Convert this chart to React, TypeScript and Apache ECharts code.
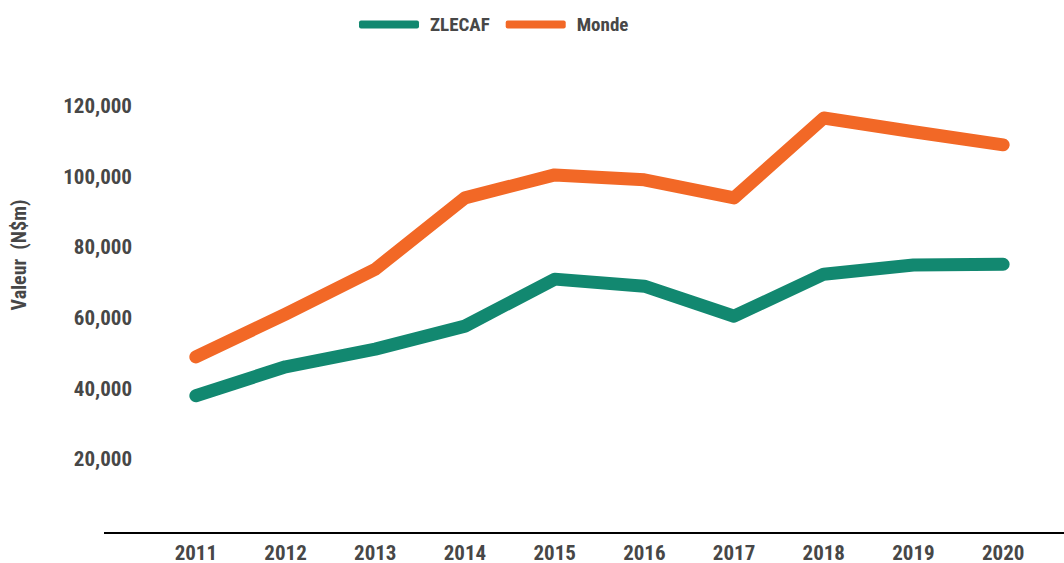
import React, { useEffect, useRef } from "react";
import * as echarts from "echarts";

const years = ["2011", "2012", "2013", "2014", "2015", "2016", "2017", "2018", "2019", "2020"];
const zlecaf = [38000, 46200, 51200, 57700, 71000, 69000, 60500, 72400, 75000, 75200];
const monde = [49000, 61100, 73800, 94000, 100500, 99100, 94000, 116600, 112700, 109000];
const yTicks = [20000, 40000, 60000, 80000, 100000, 120000];

const FONT = '"Roboto Condensed", "Noto Sans Condensed", "Liberation Sans Narrow", "DejaVu Sans Condensed", sans-serif';
const TEXT = "#474747";
const GREEN = "#128870";
const ORANGE = "#F26826";

export default function App() {
  const ref = useRef<HTMLDivElement>(null);
  useEffect(() => {
    if (!ref.current) return;
    const chart = echarts.init(ref.current, undefined, { renderer: "svg" });
    chart.setOption({
      animation: false,
      textStyle: { fontFamily: FONT },
      legend: {
        left: 354,
        top: 10,
        itemWidth: 60,
        itemHeight: 8,
        itemGap: 16,
        icon: "roundRect",
        textStyle: { fontFamily: FONT, fontWeight: "bold", fontSize: 19, color: TEXT, padding: [0, 0, 0, 6] },
        data: [
          { name: "ZLECAF", itemStyle: { color: GREEN, borderRadius: 4 } },
          { name: "Monde", itemStyle: { color: ORANGE, borderRadius: 4 } },
        ],
      },
      grid: { left: 151, right: 16, top: 106, bottom: 31, containLabel: false },
      xAxis: {
        type: "category",
        data: years,
        boundaryGap: true,
        axisLine: { show: false },
        axisTick: { show: false },
        axisLabel: { fontFamily: FONT, fontWeight: "bold", fontSize: 21, color: TEXT, margin: 12 },
      },
      yAxis: {
        type: "value",
        min: 0,
        max: 120000,
        interval: 20000,
        axisLine: { show: false },
        axisTick: { show: false },
        splitLine: { show: false },
        axisLabel: {
          fontFamily: FONT,
          fontWeight: "bold",
          fontSize: 21,
          color: TEXT,
          margin: 19,
          formatter: (v: number) => (v === 0 || yTicks.indexOf(v) < 0 ? "" : v.toLocaleString("en-US")),
        },
      },
      graphic: [
        {
          type: "line",
          shape: { x1: 104, y1: 533, x2: 1064, y2: 533 },
          style: { stroke: "#000", lineWidth: 2 },
        },
        {
          type: "text",
          x: 19,
          y: 255,
          rotation: Math.PI / 2,
          style: {
            text: "Valeur  (N$m)",
            fontFamily: FONT,
            fontWeight: "bold",
            fontSize: 20,
            fill: TEXT,
            align: "center",
            verticalAlign: "middle",
          },
        },
      ],
      series: [
        {
          name: "ZLECAF",
          type: "line",
          data: zlecaf,
          symbol: "none",
          lineStyle: { color: GREEN, width: 13, cap: "round", join: "round" },
          itemStyle: { color: GREEN },
        },
        {
          name: "Monde",
          type: "line",
          data: monde,
          symbol: "none",
          lineStyle: { color: ORANGE, width: 13, cap: "round", join: "round" },
          itemStyle: { color: ORANGE },
        },
      ],
    });
    return () => chart.dispose();
  }, []);
  return (
    <div
      ref={ref}
      style={{ position: "fixed", left: 0, top: 0, width: 1064, height: 563, background: "#fff" }}
    />
  );
}
